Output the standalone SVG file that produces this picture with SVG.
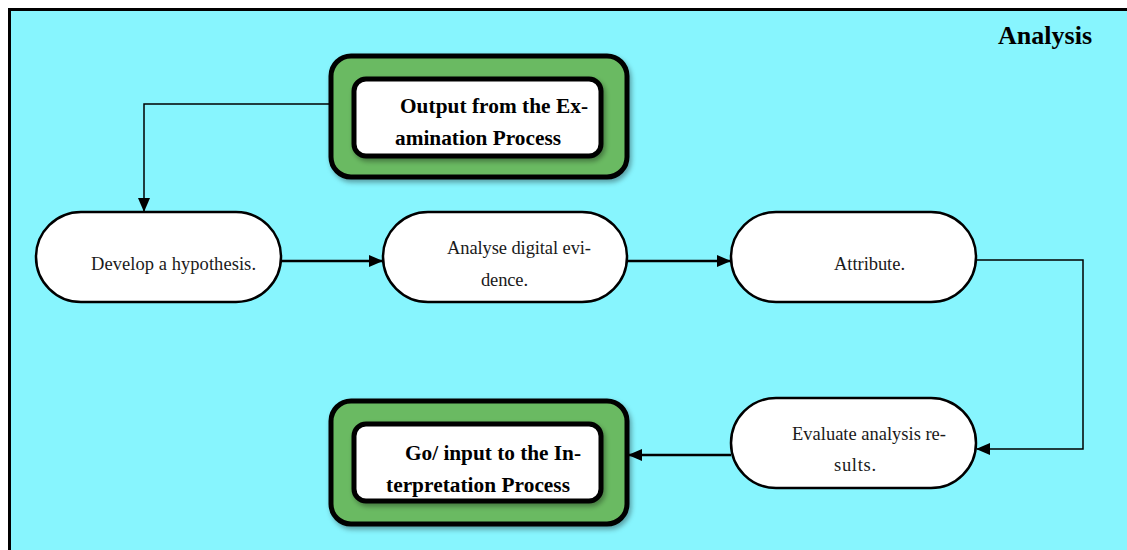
<svg xmlns="http://www.w3.org/2000/svg" width="1127" height="550" viewBox="0 0 1127 550">
<defs>
<style>
.pill{fill:#fff;stroke:#000;stroke-width:2.5}
.outer{fill:#6aba62;stroke:#000;stroke-width:5}
.inner{fill:#fff;stroke:#000;stroke-width:5}
.t{font-family:"Liberation Serif","Times New Roman",serif;font-size:18.5px;fill:#1a1a1a}
.b{font-family:"Liberation Serif","Times New Roman",serif;font-size:21.3px;font-weight:bold;fill:#000}
.ln{fill:none;stroke:#000}
</style>
<marker id="ah" markerWidth="14" markerHeight="12" refX="13" refY="6" orient="auto" markerUnits="userSpaceOnUse">
<path d="M0,0 L14,6 L0,12 Z" fill="#000"/>
</marker>
<filter id="sh" x="-10%" y="-10%" width="125%" height="130%">
<feDropShadow dx="2" dy="3" stdDeviation="2.5" flood-color="#000" flood-opacity="0.35"/>
</filter>
</defs>
<rect x="9.5" y="9.5" width="1125" height="550" fill="#87f5fe" stroke="#000" stroke-width="3"/>
<text x="998" y="44" font-family="Liberation Serif, serif" font-size="26" font-weight="bold" textLength="94">Analysis</text>
<g id="connectors">
<path class="ln" d="M331,104 H144 V211" stroke-width="1.5" marker-end="url(#ah)"/>
<path class="ln" d="M281,261 H382" stroke-width="2.5" marker-end="url(#ah)"/>
<path class="ln" d="M627,261 H730" stroke-width="2.5" marker-end="url(#ah)"/>
<path class="ln" d="M976,260 H1083 V449 H977" stroke-width="1.5" marker-end="url(#ah)"/>
<path class="ln" d="M731,455 H629" stroke-width="2.5" marker-end="url(#ah)"/>
</g>
<g id="output-exam">
<rect class="outer" x="331" y="56" width="296" height="121" rx="20" filter="url(#sh)"/>
<rect class="inner" x="354" y="79" width="247" height="77" rx="12" filter="url(#sh)"/>
<text class="b" x="400" y="113" textLength="188">Output from the Ex-</text>
<text class="b" x="395" y="145" textLength="166">amination Process</text>
</g>
<g id="develop">
<rect class="pill" x="36" y="212" width="245" height="90" rx="45"/>
<text class="t" x="91" y="270" textLength="165">Develop a hypothesis.</text>
</g>
<g id="analyse">
<rect class="pill" x="383" y="212" width="244" height="90" rx="45"/>
<text class="t" x="447" y="254" textLength="144">Analyse digital evi-</text>
<text class="t" x="481" y="286" textLength="47">dence.</text>
</g>
<g id="attribute">
<rect class="pill" x="731" y="212" width="245" height="90" rx="45"/>
<text class="t" x="834" y="270" textLength="71">Attribute.</text>
</g>
<g id="evaluate">
<rect class="pill" x="731" y="398" width="245" height="90" rx="45"/>
<text class="t" x="792" y="440" textLength="154">Evaluate analysis re-</text>
<text class="t" x="834" y="471" textLength="42">sults.</text>
</g>
<g id="interpretation">
<rect class="outer" x="331" y="401" width="296" height="123" rx="20" filter="url(#sh)"/>
<rect class="inner" x="354" y="424" width="247" height="77" rx="12" filter="url(#sh)"/>
<text class="b" x="405" y="460" textLength="176">Go/ input to the In-</text>
<text class="b" x="386" y="492" textLength="184">terpretation Process</text>
</g>
</svg>
